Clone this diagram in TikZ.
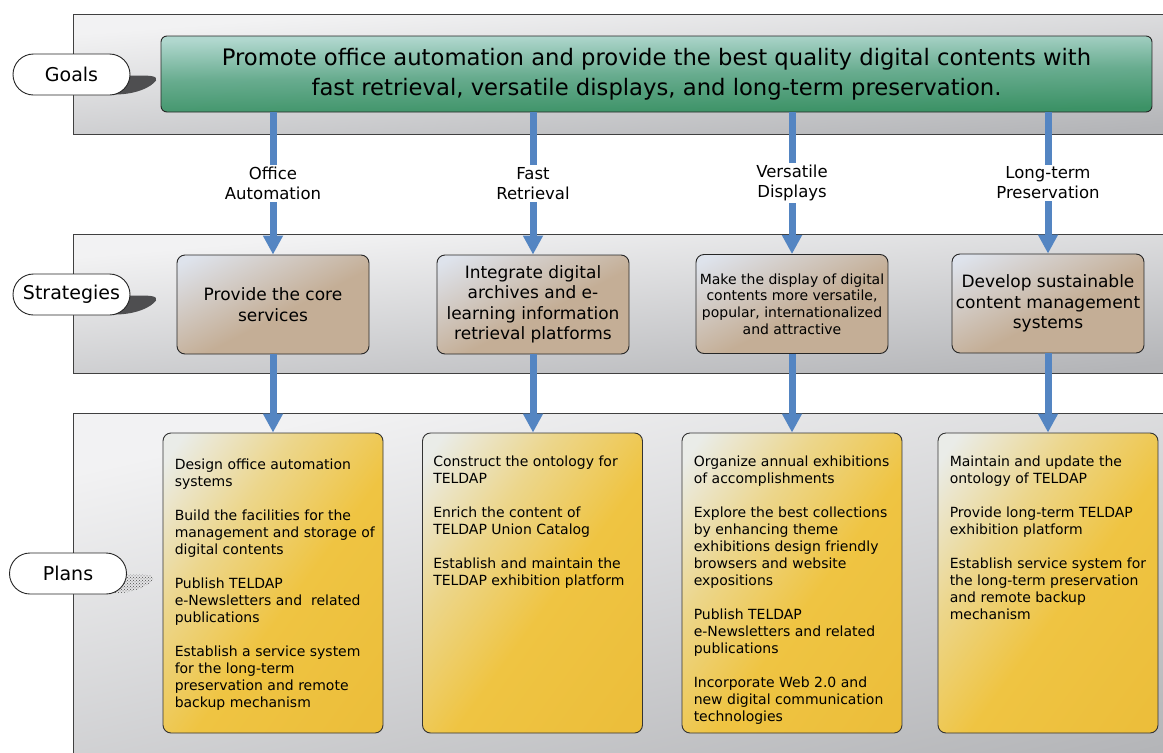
\documentclass[tikz,border=0pt]{standalone}
\usepackage{fontspec}
\setmainfont{DejaVu Sans}
\usetikzlibrary{arrows.meta,calc,patterns,shapes.misc}
\definecolor{arrowc}{RGB}{84,133,194}
\definecolor{bandA}{RGB}{242,242,243}
\definecolor{bandB}{RGB}{180,181,184}
\definecolor{goalA}{RGB}{176,215,206}
\definecolor{goalM}{RGB}{104,172,143}
\definecolor{goalB}{RGB}{60,146,102}
\definecolor{stratA}{RGB}{222,227,236}
\definecolor{stratB}{RGB}{196,174,150}
\definecolor{planA}{RGB}{234,236,232}
\definecolor{planM}{RGB}{236,214,140}
\definecolor{planB}{RGB}{239,196,66}
\definecolor{planC}{RGB}{234,186,54}
\definecolor{tailc}{RGB}{78,78,80}
\pgfdeclarehorizontalshading{bandsh}{100bp}{color(0bp)=(bandA); color(22bp)=(bandA); color(82bp)=(bandB); color(100bp)=(bandB)}
\pgfdeclarehorizontalshading{goalsh}{100bp}{color(0bp)=(goalA); color(24bp)=(goalA); color(50bp)=(goalM); color(76bp)=(goalB); color(100bp)=(goalB)}
\pgfdeclarehorizontalshading{stratsh}{100bp}{color(0bp)=(stratA); color(18bp)=(stratA); color(55bp)=(stratB); color(100bp)=(stratB)}
\pgfdeclarehorizontalshading{plansh}{100bp}{color(0bp)=(planA); color(18bp)=(planA); color(36bp)=(planM); color(55bp)=(planB); color(100bp)=(planC)}
% #1 cx, #2 cy, #3 w, #4 h, #5 radius, #6 shading, #7 angle
\newcommand\bgshade[7]{%
  \begin{scope}
    \clip[rounded corners=#5] ({#1-#3/2},{#2-#4/2}) rectangle ({#1+#3/2},{#2+#4/2});
    \pgfmathsetmacro\bsx{#3/100}\pgfmathsetmacro\bsy{#4/100}
    \shade[shading=#6, shading angle=#7, transform canvas={shift={(#1,#2)}, xscale=\bsx, yscale=\bsy}] (-50,-50) rectangle (50,50);
  \end{scope}}
\tikzset{
  bandline/.style={draw=black!75, line width=0.8pt},
  pill/.style={rounded rectangle, draw=black!85, line width=0.9pt, fill=white, minimum width=117pt, minimum height=41pt, inner sep=0pt, font=\fontsize{19}{23}\selectfont},
  goalbox/.style={draw=black!85, line width=0.9pt, rounded corners=6pt, minimum width=991pt, minimum height=76pt, align=center, inner sep=0pt, font=\fontsize{22.7}{30}\selectfont},
  stratbox/.style={draw=black!85, line width=0.9pt, rounded corners=8pt, minimum width=192pt, minimum height=99pt, align=center, inner sep=0pt, font=\fontsize{17}{20.5}\selectfont},
  planbox/.style={draw=black!80, line width=0.9pt, rounded corners=8pt, minimum width=220pt, minimum height=300pt, inner sep=0pt},
  plantext/.style={anchor=north west, align=left, inner sep=0pt, font=\fontsize{14}{17}\selectfont},
  flow/.style={draw=arrowc, line width=7pt, -{Triangle[width=19pt,length=19pt]}},
  flowlabel/.style={fill=white, inner sep=2pt, align=center, font=\fontsize{16.5}{20}\selectfont},
  tail/.style={fill=tailc},
}
\begin{document}
\begin{tikzpicture}[x=1pt,y=-1pt]
\useasboundingbox (0,0) rectangle (1163,753);
\clip (0,0) rectangle (1163,753);
% bands
\bgshade{624}{74}{1102}{120}{0pt}{bandsh}{-55}
\bgshade{624}{303.5}{1102}{139}{0pt}{bandsh}{-55}
\bgshade{624}{591.5}{1102}{357}{0pt}{bandsh}{-55}
\draw[bandline] (1175,14) -- (73,14) -- (73,134) -- (1175,134);
\draw[bandline] (1175,234) -- (73,234) -- (73,373) -- (1175,373);
\draw[bandline] (1175,413) -- (73,413) -- (73,770);

% box backgrounds
\bgshade{656.5}{74}{991}{76}{6pt}{goalsh}{-80}
\bgshade{273}{304.5}{192}{99}{8pt}{stratsh}{-45}
\bgshade{533}{304.5}{192}{99}{8pt}{stratsh}{-45}
\bgshade{792}{304}{192}{99}{8pt}{stratsh}{-45}
\bgshade{1048}{303.5}{192}{99}{8pt}{stratsh}{-45}
\bgshade{273}{583}{220}{300}{8pt}{plansh}{-45}
\bgshade{532.5}{583}{220}{300}{8pt}{plansh}{-45}
\bgshade{792}{583}{220}{300}{8pt}{plansh}{-45}
\bgshade{1048}{583}{220}{300}{8pt}{plansh}{-45}

% boxes
\node[goalbox] (goal) at (656.5,74) {Promote office automation and provide the best quality digital contents with\\fast retrieval, versatile displays, and long-term preservation.};

\node[stratbox] (s1) at (273,304.5) {Provide the core\\services};
\node[stratbox] (s2) at (533,304.5) {Integrate digital\\archives and e-\\learning information\\retrieval platforms};
\node[stratbox, font=\fontsize{14}{16.7}\selectfont] (s3) at (792,304) {Make the display of digital\\contents more versatile,\\popular, internationalized\\and attractive};
\node[stratbox] (s4) at (1048,303.5) {Develop sustainable\\content management\\systems};

\node[planbox] (p1) at (273,583) {};
\node[planbox] (p2) at (532.5,583) {};
\node[planbox] (p3) at (792,583) {};
\node[planbox] (p4) at (1048,583) {};

% arrows goals -> strategies
\draw[flow] (s1.north |- goal.south) -- node[flowlabel] (l1) {Office\\Automation} (s1.north);
\draw[flow] (s2.north |- goal.south) -- node[flowlabel] (l2) {Fast\\Retrieval} (s2.north);
\draw[flow] (s3.north |- goal.south) -- node[flowlabel] (l3) {Versatile\\Displays} (s3.north);
\draw[flow] (s4.north |- goal.south) -- node[flowlabel] (l4) {Long-term\\Preservation} (s4.north);

% arrows strategies -> plans
\draw[flow] (s1.south) -- (s1.south |- p1.north);
\draw[flow] (s2.south) -- (s2.south |- p2.north);
\draw[flow] (s3.south) -- (s3.south |- p3.north);
\draw[flow] (s4.south) -- (s4.south |- p4.north);

% plan texts
\node[plantext] (t1) at ($(p1.north west)+(12,26)$) {Design office automation\\systems\\[17pt]Build the facilities for the\\management and storage of\\digital contents\\[17pt]Publish TELDAP\\e-Newsletters and\ \ related\\publications\\[17pt]Establish a service system\\for the long-term\\preservation and remote\\backup mechanism};
\node[plantext] (t2) at ($(p2.north west)+(11,23)$) {Construct the ontology for\\TELDAP\\[17pt]Enrich the content of\\TELDAP Union Catalog\\[17pt]Establish and maintain the\\TELDAP exhibition platform};
\node[plantext] (t3) at ($(p3.north west)+(12,23)$) {Organize annual exhibitions\\of accomplishments\\[17pt]Explore the best collections\\by enhancing theme\\exhibitions design friendly\\browsers and website\\expositions\\[17pt]Publish TELDAP\\e-Newsletters and related\\publications\\[17pt]Incorporate Web 2.0 and\\new digital communication\\technologies};
\node[plantext] (t4) at ($(p4.north west)+(12,23)$) {Maintain and update the\\ontology of TELDAP\\[17pt]Provide long-term TELDAP\\exhibition platform\\[17pt]Establish service system for\\the long-term preservation\\and remote backup\\mechanism};

% pills with tails
\coordinate (ge) at (130,74.5);
\fill[tail] ($(ge)+(-18,20)$) .. controls ($(ge)+(5,20.5)$) and ($(ge)+(21,13)$) .. ($(ge)+(26,6)$) .. controls ($(ge)+(28,1.5)$) and ($(ge)+(20,1)$) .. ($(ge)+(10,1)$) -- ($(ge)+(-2,1)$) -- cycle;
\node[pill] (gl) at (71.5,74.5) {Goals};

\coordinate (se) at (130,294.5);
\fill[tail] ($(se)+(-18,20)$) .. controls ($(se)+(5,20.5)$) and ($(se)+(21,13)$) .. ($(se)+(26,6)$) .. controls ($(se)+(28,1.5)$) and ($(se)+(20,1)$) .. ($(se)+(10,1)$) -- ($(se)+(-2,1)$) -- cycle;
\node[pill] (sl) at (71.5,294.5) {Strategies};

\coordinate (pe) at (127,573.5);
\fill[pattern=crosshatch dots, pattern color=black!70] ($(pe)+(-18,20)$) .. controls ($(pe)+(5,20.5)$) and ($(pe)+(21,13)$) .. ($(pe)+(26,6)$) .. controls ($(pe)+(28,1.5)$) and ($(pe)+(20,1)$) .. ($(pe)+(10,1)$) -- ($(pe)+(-2,1)$) -- cycle;
\node[pill] (pl) at (68,573.5) {Plans};
\end{tikzpicture}
\end{document}
